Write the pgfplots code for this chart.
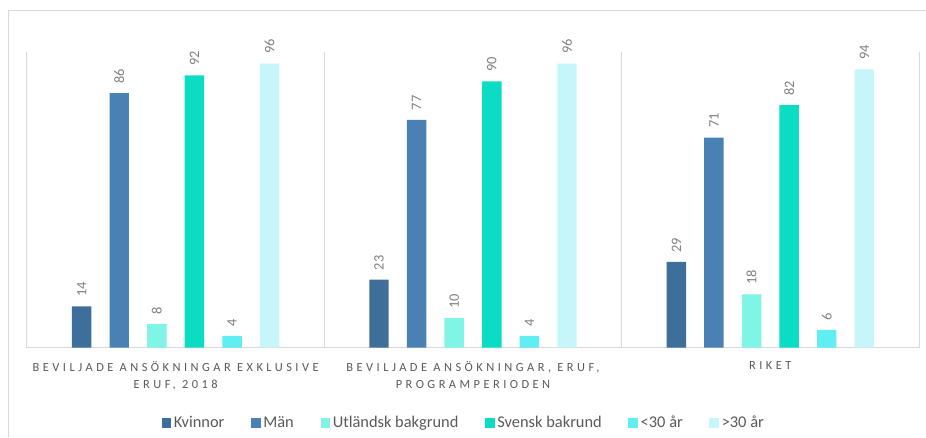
\documentclass[border=0pt]{standalone}
\usepackage{fontspec}
\setmainfont{Carlito}
\newfontfamily\spaced[LetterSpace=28]{Carlito}
\usepackage{pgfplots}
\pgfplotsset{compat=1.18}
\definecolor{c1}{RGB}{62,111,154}
\definecolor{c2}{RGB}{74,129,180}
\definecolor{c3}{RGB}{128,245,230}
\definecolor{c4}{RGB}{11,221,196}
\definecolor{c5}{RGB}{95,238,242}
\definecolor{c6}{RGB}{198,245,250}
\definecolor{gridgray}{RGB}{217,217,217}
\definecolor{labgray}{RGB}{89,89,89}
\definecolor{numgray}{RGB}{128,128,128}
\tikzset{lab/.style={xshift=#1, rotate=90, anchor=west, font=\fontsize{10.8}{12}\selectfont, text=numgray, inner xsep=7pt}}
\begin{document}
\begin{tikzpicture}
\useasboundingbox (0,0) rectangle (694.5pt,-327.75pt);
\draw[gridgray, line width=0.9pt] (6.2pt,-327.75pt) -- (6.2pt,-7.9pt) -- (694.5pt,-7.9pt);
\begin{axis}[
  at={(20.25pt,-38.8pt)}, anchor=north west,
  scale only axis, width=669pt, height=222pt,
  xmin=-0.5, xmax=2.5, ymin=0, ymax=100,
  axis line style={draw=none},
  ytick=\empty,
  xtick={0,1,2},
  xticklabels={{BEVILJADE ANSÖKNINGAR EXKLUSIVE\\ERUF, 2018},{BEVILJADE ANSÖKNINGAR, ERUF,\\PROGRAMPERIODEN},{RIKET}},
  major tick length=0pt,
  xticklabel style={font=\spaced\fontsize{9.3}{12.75}\selectfont, text=labgray, align=center, yshift=-6.5pt},
  extra x ticks={-0.5,0.5,1.5,2.5},
  extra x tick labels={},
  extra x tick style={grid=major, major grid style={draw=gridgray, line width=0.75pt}},
  extra y ticks={0},
  extra y tick labels={},
  extra y tick style={grid=major, major grid style={draw=gridgray, line width=1.1pt}},
  clip=false,
  /pgf/number format/assume math mode=true,
  legend columns=6,
  legend style={at={(0.49,-0.254)}, anchor=center, draw=none, fill=none,
    font=\fontsize{12.3}{14}\selectfont, text=labgray,
    /tikz/every even column/.append style={column sep=18pt},
    /tikz/every odd column/.append style={column sep=0pt}},
  legend image code/.code={\fill[#1,draw=none] (0pt,-3.6pt) rectangle (7.2pt,3.6pt);},
]
\addplot[ybar, bar width=14.6pt, bar shift=-70.5pt, fill=c1, draw=none, nodes near coords, every node near coord/.style={lab=-70.5pt}] coordinates {(0,14) (1,23) (2,29)};
\addlegendentry{Kvinnor}
\addplot[ybar, bar width=14.6pt, bar shift=-42.3pt, fill=c2, draw=none, nodes near coords, every node near coord/.style={lab=-42.3pt}] coordinates {(0,86) (1,77) (2,71)};
\addlegendentry{Män}
\addplot[ybar, bar width=14.6pt, bar shift=-14.1pt, fill=c3, draw=none, nodes near coords, every node near coord/.style={lab=-14.1pt}] coordinates {(0,8) (1,10) (2,18)};
\addlegendentry{Utländsk bakgrund}
\addplot[ybar, bar width=14.6pt, bar shift=14.1pt, fill=c4, draw=none, nodes near coords, every node near coord/.style={lab=14.1pt}] coordinates {(0,92) (1,90) (2,82)};
\addlegendentry{Svensk bakrund}
\addplot[ybar, bar width=14.6pt, bar shift=42.3pt, fill=c5, draw=none, nodes near coords, every node near coord/.style={lab=42.3pt}] coordinates {(0,4) (1,4) (2,6)};
\addlegendentry{<30 år}
\addplot[ybar, bar width=14.6pt, bar shift=70.5pt, fill=c6, draw=none, nodes near coords, every node near coord/.style={lab=70.5pt}] coordinates {(0,96) (1,96) (2,94)};
\addlegendentry{>30 år}
\end{axis}
\end{tikzpicture}
\end{document}
